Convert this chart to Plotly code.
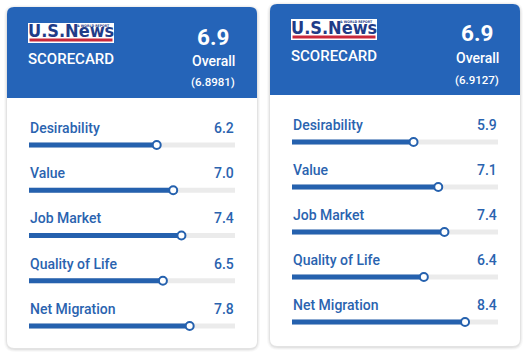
import plotly.graph_objects as go

W, H = 524, 358

categories = ["Desirability", "Value", "Job Market", "Quality of Life", "Net Migration"]
left_scores = [6.2, 7.0, 7.4, 6.5, 7.8]
right_scores = [5.9, 7.1, 7.4, 6.4, 8.4]
left_overall = "6.9"
left_exact = "(6.8981)"
right_overall = "6.9"
right_exact = "(6.9127)"
score_max = 10

HEADER = "#2564B8"
BAR = "#2561AE"
LABEL = "#2A63AF"
TRACK = "#EBEBEB"
FONT = "Roboto"


def px(x):
    return x / W


def py(y):
    return 1 - y / H


def rrect(x0, y0, x1, y1, r, top_only=False):
    rx, ry = r / W, r / H
    X0, X1 = px(x0), px(x1)
    Y0, Y1 = py(y0), py(y1)
    if top_only:
        return (f"M {X0},{Y1} L {X0},{Y0-ry} Q {X0},{Y0} {X0+rx},{Y0} "
                f"L {X1-rx},{Y0} Q {X1},{Y0} {X1},{Y0-ry} L {X1},{Y1} Z")
    return (f"M {X0+rx},{Y0} L {X1-rx},{Y0} Q {X1},{Y0} {X1},{Y0-ry} "
            f"L {X1},{Y1+ry} Q {X1},{Y1} {X1-rx},{Y1} L {X0+rx},{Y1} "
            f"Q {X0},{Y1} {X0},{Y1+ry} L {X0},{Y0-ry} Q {X0},{Y0} {X0+rx},{Y0} Z")


fig = go.Figure()

cards = [
    dict(scores=left_scores, xa="x", ya="y", box=(7, 7, 257, 348), hb=98,
         track=(29, 235), bar0=145, step=45.25, overall=left_overall, exact=left_exact,
         logo=(28, 23, 114, 43), sc_y=59, big_y=37, ov_y=61, ex_y=82, num_x=213),
    dict(scores=right_scores, xa="x2", ya="y2", box=(270, 4, 520, 346), hb=95,
         track=(292, 498), bar0=142, step=45.0, overall=right_overall, exact=right_exact,
         logo=(291, 19, 377, 40), sc_y=56, big_y=33, ov_y=58, ex_y=80, num_x=477),
]

shapes = []
annotations = []
layout_axes = {}

for k, c in enumerate(cards):
    x0, y0, x1, y1 = c["box"]
    for d, op in [(3, 0.025), (2, 0.035), (1, 0.05)]:
        shapes.append(dict(type="path", xref="paper", yref="paper",
                           path=rrect(x0 - d, y0 - d + 1, x1 + d, y1 + d + 1, 8 + d),
                           fillcolor=f"rgba(0,0,0,{op})", line=dict(width=0), layer="below"))
    shapes.append(dict(type="path", xref="paper", yref="paper", path=rrect(x0, y0, x1, y1, 7),
                       fillcolor="white", line=dict(width=0), layer="below"))
    shapes.append(dict(type="path", xref="paper", yref="paper",
                       path=rrect(x0, y0, x1, c["hb"], 7, top_only=True),
                       fillcolor=HEADER, line=dict(width=0), layer="below"))
    # logo
    lx0, ly0, lx1, ly1 = c["logo"]
    shapes.append(dict(type="rect", xref="paper", yref="paper", x0=px(lx0), x1=px(lx1),
                       y0=py(ly1), y1=py(ly0), fillcolor="white", line=dict(width=0),
                       layer="below"))
    shapes.append(dict(type="rect", xref="paper", yref="paper", x0=px(lx0 + 1.5), x1=px(lx1 - 1.5),
                       y0=py(ly1 - 1.5), y1=py(ly1 - 4.5), fillcolor="#C8283A", line=dict(width=0),
                       layer="below"))
    annotations.append(dict(xref="paper", yref="paper", x=px((lx0 + lx1) / 2), y=py(ly0 + 8),
                            text="<b>U.S.News</b>", showarrow=False, xanchor="center", yanchor="middle",
                            borderpad=0,
                            font=dict(family="DejaVu Sans Condensed", size=18, color="#1F3C88")))
    annotations.append(dict(xref="paper", yref="paper", x=px(lx1 - 3), y=py(ly0 + 3),
                            text="<b>&amp; WORLD REPORT</b>", showarrow=False, xanchor="right",
                            yanchor="middle", borderpad=0,
                            font=dict(family="DejaVu Sans Condensed", size=3.5, color="#1F3C88")))
    annotations.append(dict(xref="paper", yref="paper", x=px((lx0 + lx1) / 2), y=py(c["sc_y"]),
                            text="SCORECARD", showarrow=False, xanchor="center", yanchor="middle",
                            font=dict(family=FONT, size=15, color="white", weight=500)))
    annotations.append(dict(xref="paper", yref="paper", x=px(c["num_x"]), y=py(c["big_y"]),
                            text="<b>" + c["overall"] + "</b>", showarrow=False,
                            xanchor="center", yanchor="middle",
                            font=dict(family=FONT, size=22.5, color="white")))
    annotations.append(dict(xref="paper", yref="paper", x=px(c["num_x"]), y=py(c["ov_y"]),
                            text="Overall", showarrow=False, xanchor="center", yanchor="middle",
                            font=dict(family=FONT, size=14, color="white", weight=500)))
    annotations.append(dict(xref="paper", yref="paper", x=px(c["num_x"]), y=py(c["ex_y"]),
                            text=c["exact"], showarrow=False, xanchor="center", yanchor="middle",
                            font=dict(family=FONT, size=11.5, color="white", weight=500)))

    tx0, tx1 = c["track"]
    n = len(categories)
    top = c["bar0"] - c["step"] * 0.5
    bot = c["bar0"] + c["step"] * (n - 0.5)
    suffix = "" if k == 0 else "2"
    layout_axes["xaxis" + suffix] = dict(domain=[px(tx0), px(tx1)], range=[0, score_max],
                                         visible=False, fixedrange=True,
                                         anchor="y" + suffix)
    layout_axes["yaxis" + suffix] = dict(domain=[py(bot), py(top)], range=[n - 0.5, -0.5],
                                         visible=False, fixedrange=True,
                                         anchor="x" + suffix)

    idx = list(range(n))
    tx, ty, bx, by = [], [], [], []
    for i, v in zip(idx, c["scores"]):
        tx += [0, score_max, None]
        ty += [i, i, None]
        bx += [0, v, None]
        by += [i, i, None]
    fig.add_trace(go.Scatter(x=tx, y=ty, mode="lines", line=dict(color=TRACK, width=5),
                             xaxis=c["xa"], yaxis=c["ya"], hoverinfo="skip", showlegend=False))
    fig.add_trace(go.Scatter(x=bx, y=by, mode="lines", line=dict(color=BAR, width=5),
                             xaxis=c["xa"], yaxis=c["ya"], hoverinfo="skip", showlegend=False))
    fig.add_trace(go.Scatter(x=c["scores"], y=idx, mode="markers",
                             marker=dict(size=8, color="white", line=dict(color=BAR, width=2)),
                             xaxis=c["xa"], yaxis=c["ya"], showlegend=False))
    for i, (cat, v) in enumerate(zip(categories, c["scores"])):
        annotations.append(dict(xref=c["xa"], yref=c["ya"], x=0, y=i, yshift=17,
                                text=cat, showarrow=False, xanchor="left", yanchor="middle",
                                xshift=-1,
                                font=dict(family=FONT, size=14, color=LABEL, weight=500)))
        annotations.append(dict(xref=c["xa"], yref=c["ya"], x=score_max, y=i, yshift=17,
                                text=f"{v:.1f}", showarrow=False, xanchor="right", yanchor="middle",
                                xshift=1,
                                font=dict(family=FONT, size=14, color=LABEL, weight=500)))

fig.update_layout(width=W, height=H, margin=dict(l=0, r=0, t=0, b=0),
                  paper_bgcolor="white", plot_bgcolor="rgba(0,0,0,0)",
                  shapes=shapes, annotations=annotations, **layout_axes)

fig.write_html("out.html", config=dict(displayModeBar=False),
               post_script="document.body.style.margin='0';document.body.style.padding='0';")
